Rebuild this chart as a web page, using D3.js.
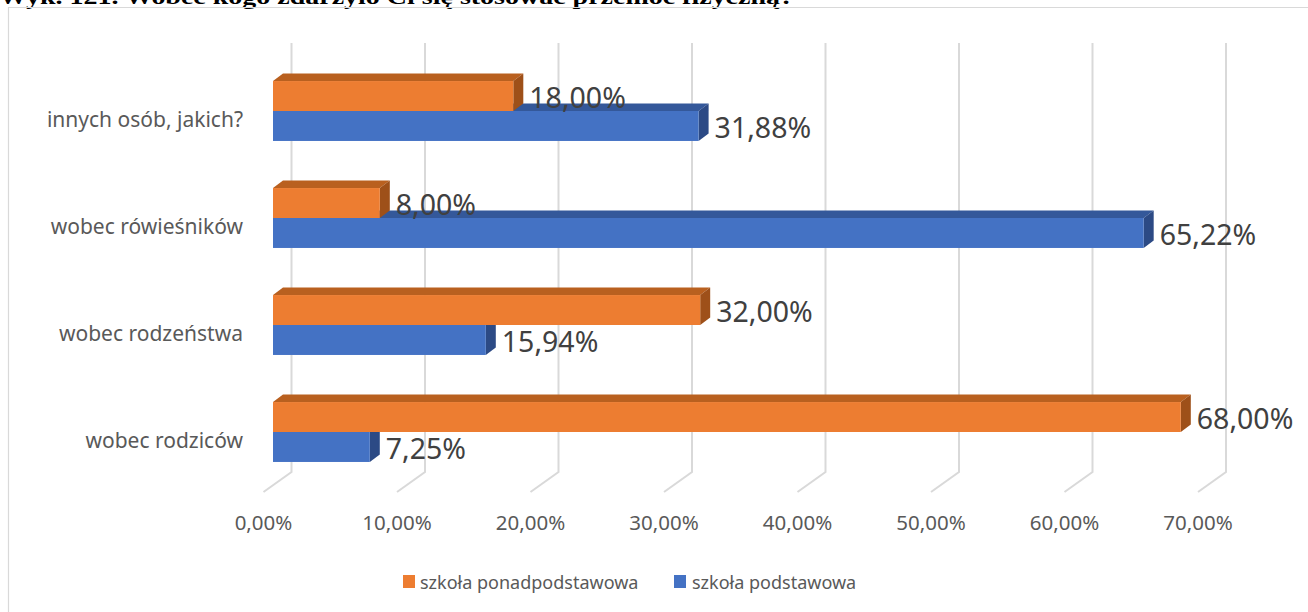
<!DOCTYPE html>
<html>
<head>
<meta charset="utf-8">
<script src="https://cdn.jsdelivr.net/npm/d3@7"></script>
<style>
  html, body { margin: 0; padding: 0; background: #fff; }
  svg { display: block; }
</style>
</head>
<body>
<svg id="chart" width="1308" height="612"></svg>
<script>
const title = "Wyk. 121. Wobec kogo zdarzyło Ci się stosować przemoc fizyczną?";
const categories = ["innych osób, jakich?", "wobec rówieśników", "wobec rodzeństwa", "wobec rodziców"];
const seriesNames = ["szkoła ponadpodstawowa", "szkoła podstawowa"];
const ponadpodstawowa = [18.00, 8.00, 32.00, 68.00];
const podstawowa = [31.88, 65.22, 15.94, 7.25];
const tickValues = [0, 10, 20, 30, 40, 50, 60, 70];

const colors = {
  orange: { front: "#ED7D31", top: "#B9601F", side: "#9E5019" },
  blue:   { front: "#4472C4", top: "#34589A", side: "#2C4A85" }
};

const fmt = v => v.toFixed(2).replace(".", ",") + "%";
const svg = d3.select("#chart");

// Title (partially clipped at top, as in the reference)
svg.append("text")
  .attr("x", -1).attr("y", 4)
  .attr("font-family", "Liberation Serif, Times New Roman, serif")
  .attr("font-weight", "bold")
  .attr("font-size", 22)
  .attr("fill", "#000")
  .attr("textLength", 795)
  .attr("lengthAdjust", "spacingAndGlyphs")
  .text(title);

// Chart frame
svg.append("path")
  .attr("d", "M8.5,620 L8.5,7.5 L1320,7.5")
  .attr("fill", "none").attr("stroke", "#D9D9D9").attr("stroke-width", 1.2);

// Scales
const x = d3.scaleLinear().domain([0, 70]).range([273, 273 + 7 * 133.5]);
const y = d3.scaleBand().domain(categories).range([57.5, 485.5]).paddingInner(0.44).paddingOuter(0.22);
const sub = d3.scaleBand().domain(seriesNames).range([0, y.bandwidth()]);

const backOff = 18.5, floorDx = -28, floorDy = 20;
const gridTop = 43, gridBottom = 472;
const depthDx = 10, depthDy = -7.5;

// Gridlines (back wall + floor)
const grid = svg.append("g").attr("fill", "none").attr("stroke", "#D9D9D9").attr("stroke-width", 2);
tickValues.forEach(t => {
  const xb = x(t) + backOff;
  grid.append("path")
    .attr("d", `M${xb},${gridTop} L${xb},${gridBottom} L${xb + floorDx},${gridBottom + floorDy}`);
});

// Tick labels
svg.append("g").selectAll("text").data(tickValues).join("text")
  .attr("x", d => x(d) + backOff + floorDx)
  .attr("y", 522)
  .attr("text-anchor", "middle")
  .attr("dominant-baseline", "central")
  .attr("font-family", "Noto Sans, Open Sans, sans-serif")
  .attr("font-size", 20.5)
  .attr("fill", "#595959")
  .text(d => fmt(d));

// Category labels
svg.append("g").selectAll("text").data(categories).join("text")
  .attr("x", 243)
  .attr("y", d => y(d) + y.bandwidth() / 2 + 8)
  .attr("text-anchor", "end")
  .attr("dominant-baseline", "central")
  .attr("font-family", "Noto Sans, Open Sans, sans-serif")
  .attr("font-size", 21)
  .attr("fill", "#595959")
  .text(d => d);

// Bars: draw blue (lower) first, then orange over it
const seriesData = [
  { name: seriesNames[1], values: podstawowa, c: colors.blue },
  { name: seriesNames[0], values: ponadpodstawowa, c: colors.orange }
];

const bars = svg.append("g");
seriesData.forEach(s => {
  categories.forEach((cat, i) => {
    const v = s.values[i];
    const x0 = x(0), x1 = x(v);
    const y0 = y(cat) + sub(s.name), y1 = y0 + sub.bandwidth();
    const g = bars.append("g");
    g.append("path")
      .attr("d", `M${x0},${y0} L${x0 + depthDx},${y0 + depthDy} L${x1 + depthDx},${y0 + depthDy} L${x1},${y0} Z`)
      .attr("fill", s.c.top);
    g.append("path")
      .attr("d", `M${x1},${y0} L${x1 + depthDx},${y0 + depthDy} L${x1 + depthDx},${y1 + depthDy} L${x1},${y1} Z`)
      .attr("fill", s.c.side);
    g.append("rect")
      .attr("x", x0).attr("y", y0)
      .attr("width", x1 - x0).attr("height", y1 - y0)
      .attr("fill", s.c.front);
  });
});

// Value labels
const labels = svg.append("g");
seriesData.forEach(s => {
  categories.forEach((cat, i) => {
    const v = s.values[i];
    labels.append("text")
      .attr("x", x(v) + depthDx + 6)
      .attr("y", y(cat) + sub(s.name) + sub.bandwidth() / 2 + 1)
      .attr("dominant-baseline", "central")
      .attr("font-family", "Noto Sans, Open Sans, sans-serif")
      .attr("font-size", 28.5)
      .attr("fill", "#404040")
      .text(fmt(v));
  });
});

// Legend
const legendItems = [
  { name: seriesNames[0], color: colors.orange.front, sx: 403, tx: 420 },
  { name: seriesNames[1], color: colors.blue.front, sx: 674, tx: 692 }
];
const lg = svg.append("g");
legendItems.forEach(it => {
  lg.append("rect").attr("x", it.sx).attr("y", 575).attr("width", 12).attr("height", 13).attr("fill", it.color);
  lg.append("text")
    .attr("x", it.tx).attr("y", 582)
    .attr("dominant-baseline", "central")
    .attr("font-family", "Noto Sans, Open Sans, sans-serif")
    .attr("font-size", 18)
    .attr("fill", "#595959")
    .text(it.name);
});
</script>
</body>
</html>
